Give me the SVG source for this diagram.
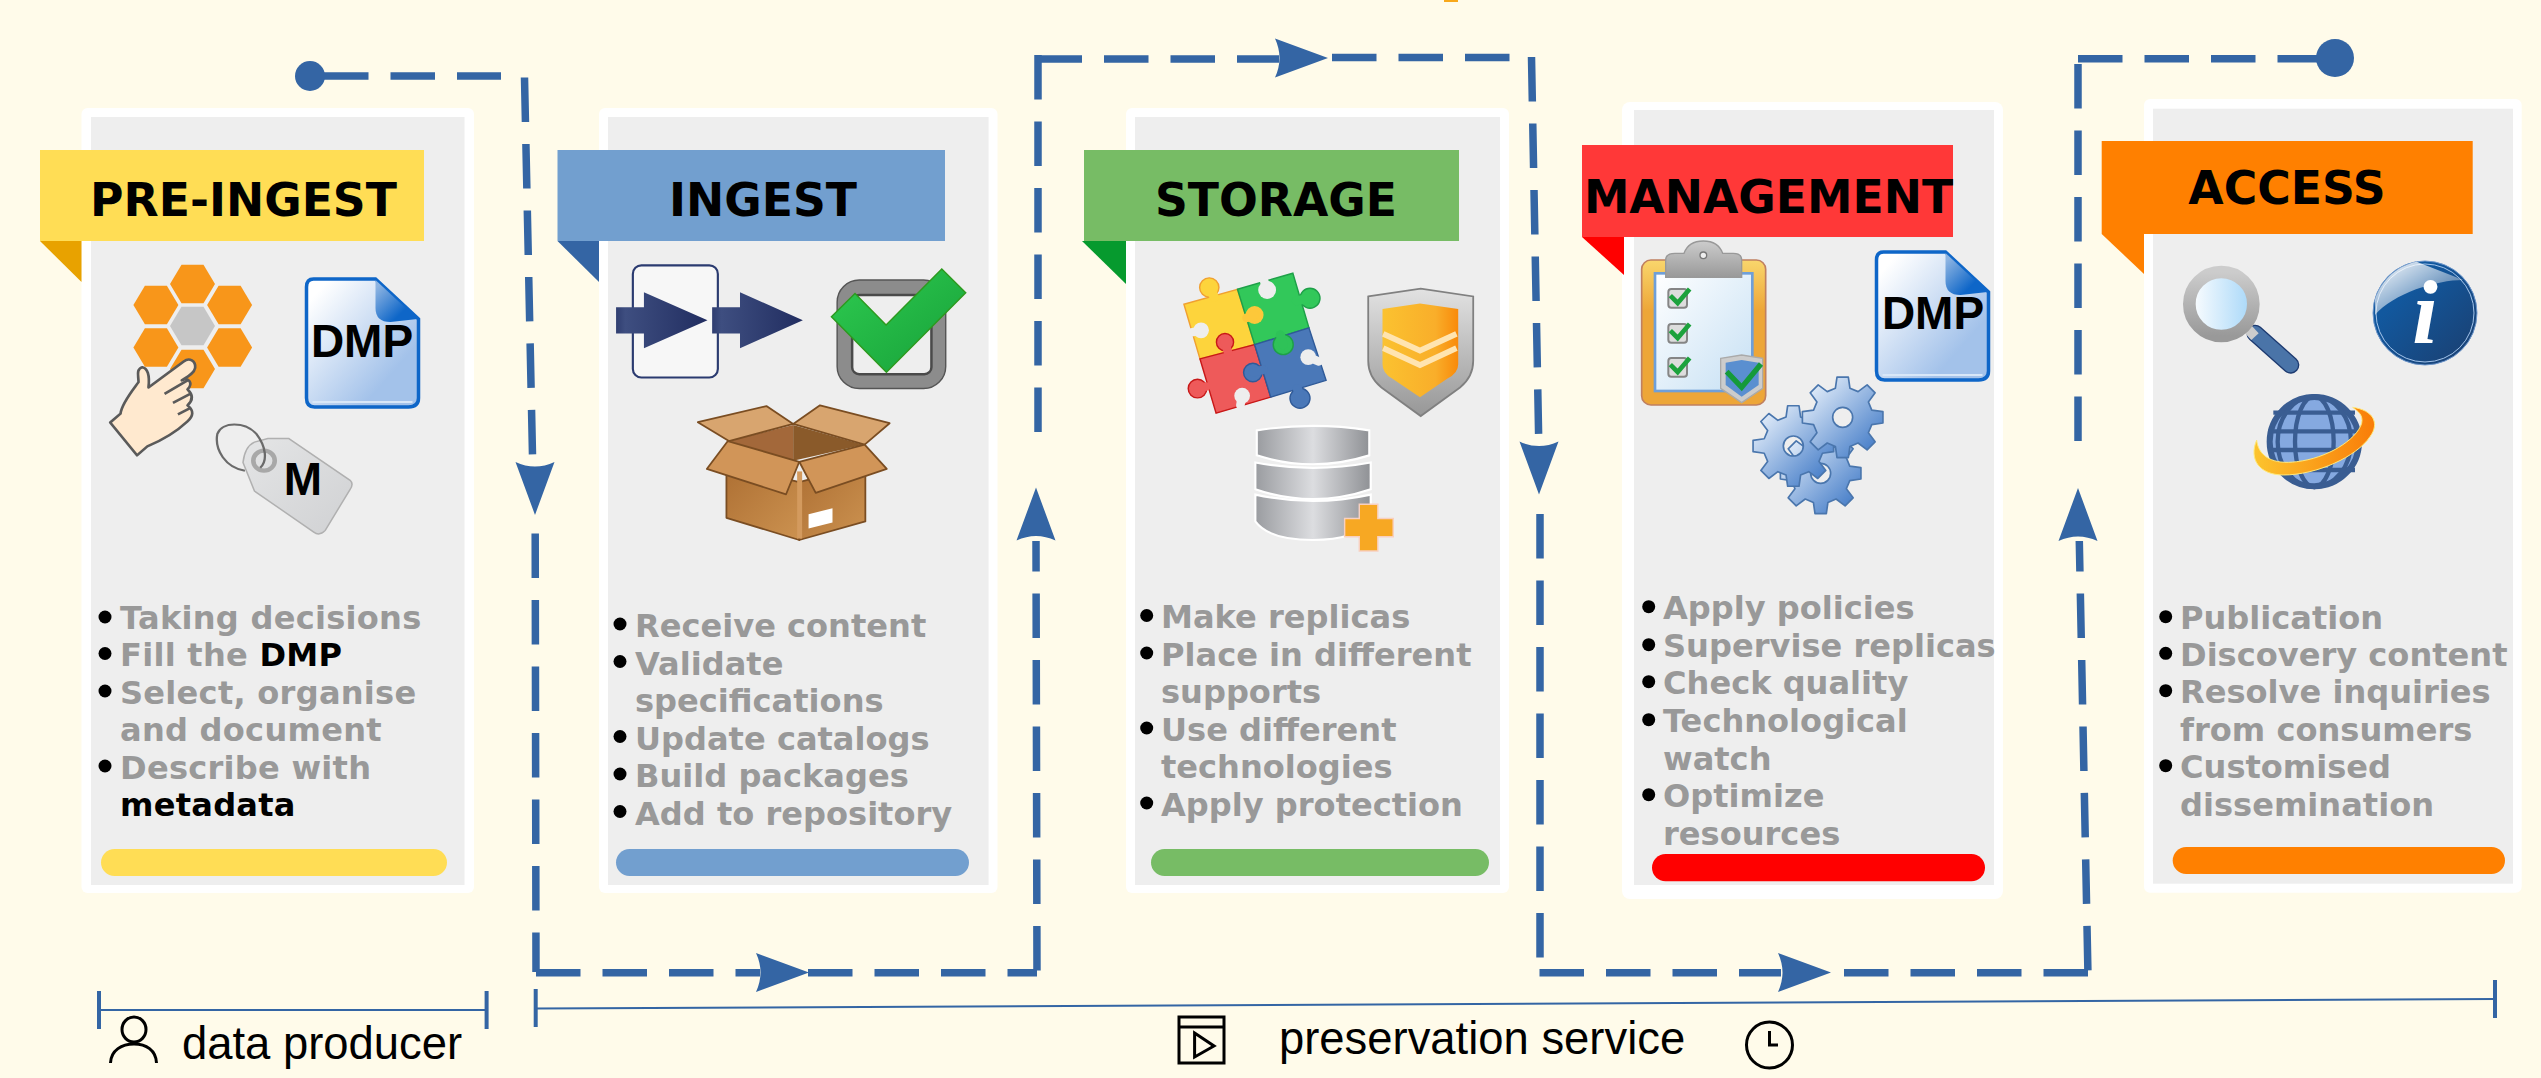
<svg xmlns="http://www.w3.org/2000/svg" xmlns:xlink="http://www.w3.org/1999/xlink" width="2541" height="1078" viewBox="0 0 2541 1078">
<style>
.card{fill:#fff}.inner{fill:#eee}
.h{font-family:"DejaVu Sans",sans-serif;font-weight:700;font-size:45.7px;text-anchor:middle;fill:#000}
.t{font-family:"DejaVu Sans",sans-serif;font-weight:700;font-size:32.1px;fill:#999}
.t tspan{fill:#000}
.dmp{font-family:"Liberation Sans",sans-serif;font-weight:700;font-size:46px;text-anchor:middle;fill:#000}
.leg{font-family:"Liberation Sans",sans-serif;font-size:45.4px;fill:#000}
.dash{fill:none;stroke:#3465a4;stroke-width:7.5;stroke-dasharray:44.5 22}
.head{fill:#3465a4}
.br{fill:none;stroke:#3465a4;stroke-width:2}
.tick{fill:none;stroke:#3465a4;stroke-width:4}
.ico{fill:none;stroke:#000;stroke-width:3}
</style>
<defs>
<linearGradient id="gDoc" x1="0" y1="0" x2="1" y2="1"><stop offset=".1" stop-color="#fff"/><stop offset=".75" stop-color="#a3c2ea"/></linearGradient>
<linearGradient id="gEar" x1="0" y1="0" x2="1" y2="1"><stop offset=".1" stop-color="#8db4e2"/><stop offset=".7" stop-color="#0e66c8"/></linearGradient>
<linearGradient id="gTag" x1="0" y1="0" x2="1" y2="1"><stop offset="0" stop-color="#e4e5e6"/><stop offset="1" stop-color="#d0d1d3"/></linearGradient>
<linearGradient id="gArr" x1="0" y1="0" x2="1" y2="0"><stop offset="0" stop-color="#2f3d70"/><stop offset=".1" stop-color="#3e4e80"/><stop offset="1" stop-color="#212d60"/></linearGradient>
<linearGradient id="gChk" x1="0" y1="0" x2="1" y2="1"><stop offset="0" stop-color="#2ecb50"/><stop offset="1" stop-color="#17a039"/></linearGradient>
<linearGradient id="gBox" x1="0" y1="0" x2="1" y2="1"><stop offset="0" stop-color="#ad6f33"/><stop offset="1" stop-color="#cc9250"/></linearGradient>
<linearGradient id="gShO" x1="0" y1="0" x2="0" y2="1"><stop offset="0" stop-color="#e2e2e2"/><stop offset="1" stop-color="#979797"/></linearGradient>
<linearGradient id="gShI" x1="0" y1="0" x2="1" y2="0"><stop offset="0" stop-color="#fbc230"/><stop offset=".7" stop-color="#f9ae2a"/><stop offset="1" stop-color="#f98a0a"/></linearGradient>
<linearGradient id="gDb" x1="0" y1="0" x2="1" y2="0"><stop offset="0" stop-color="#9a9ca0"/><stop offset=".5" stop-color="#dcdde0"/><stop offset="1" stop-color="#8f9195"/></linearGradient>
<linearGradient id="gBrd" x1="0" y1="0" x2="0" y2="1"><stop offset="0" stop-color="#f9d66c"/><stop offset=".35" stop-color="#eda638"/></linearGradient>
<linearGradient id="gPap" x1="0" y1="0" x2="1" y2="1"><stop offset="0" stop-color="#fff"/><stop offset="1" stop-color="#c6e0f4"/></linearGradient>
<linearGradient id="gClip" x1="0" y1="0" x2="0" y2="1"><stop offset="0" stop-color="#ccc"/><stop offset="1" stop-color="#999"/></linearGradient>
<linearGradient id="gGear" x1="0" y1="0" x2="1" y2="1"><stop offset=".1" stop-color="#e4eefa"/><stop offset=".85" stop-color="#4f84cb"/></linearGradient>
<linearGradient id="gLens" x1="0" y1="0" x2="1" y2="0"><stop offset="0" stop-color="#fff"/><stop offset="1" stop-color="#a5d6f8"/></linearGradient>
<linearGradient id="gInfo" x1="0" y1="0" x2="1" y2="1"><stop offset=".3" stop-color="#12589e"/><stop offset="1" stop-color="#1b3e6e"/></linearGradient>
<linearGradient id="gGloss" x1="0" y1="0" x2="1" y2="1"><stop offset="0" stop-color="#fff"/><stop offset="1" stop-color="#fff" stop-opacity="0"/></linearGradient>
<linearGradient id="gRing" x1="0" y1="0" x2="1" y2="0"><stop offset="0" stop-color="#fcc42e"/><stop offset="1" stop-color="#f97d08"/></linearGradient>
<path id="hex" d="M-22.5,0-11,-19.3H11L22.5,0 11,19.3H-11Z"/>
<g id="doc">
<path d="M8,1H70L113,41V120Q113,129 103,129H9Q1,129 1,120V9Q1,1 8,1Z" fill="url(#gDoc)" stroke="#0e66c8" stroke-width="3.5"/>
<path d="M7,124H107" fill="none" stroke="#d8e7f8" stroke-width="2"/>
<path d="M70,2 112,41 85,44Q70,44 70,30Z" fill="url(#gEar)"/>
</g>
<path id="ah" d="M0,0-53,-19.5Q-44,0-53,19.5Z"/>
<path id="gear" fill="url(#gGear)" stroke="#4a76ad" stroke-width="5" stroke-linejoin="round" fill-rule="evenodd" d="M87.3,-21.8 120.8,-17V17L87.3,21.8 77.1,46.3 97.4,73.4 73.4,97.4 46.3,77.1 21.8,87.3 17,120.8H-17L-21.8,87.3-46.3,77.1-73.4,97.4-97.4,73.4-77.1,46.3-87.3,21.8-120.8,17V-17L-87.3,-21.8-77.1,-46.3-97.4,-73.4-73.4,-97.4-46.3,-77.1-21.8,-87.3-17,-120.8H17L21.8,-87.3 46.3,-77.1 73.4,-97.4 97.4,-73.4 77.1,-46.3ZM30,0A30,30 0 1 0-30,0A30,30 0 1 0 30,0Z"/>
<g id="smallchk"><rect x="-28" y="-28" width="56" height="56" rx="9" fill="#ddd" stroke="#858585" stroke-width="6"/><path d="M-22,-8 0,14 36,-28" fill="none" stroke="#1da23d" stroke-width="14"/></g>
</defs>
<rect width="2541" height="1078" fill="#fffbea"/>
<rect x="1444" y="0" width="14" height="2" fill="#f8a81b"/>

<g id="connectors">
<circle cx="310" cy="76" r="15" class="head"/>
<path class="dash" d="M324,76H501"/>
<path class="dash" d="M524.5,77.5L532.5,455"/>
<use xlink:href="#ah" href="#ah" class="head" transform="translate(535,515) rotate(90)"/>
<path class="dash" d="M535.2,533.5L536,972"/>
<path class="dash" d="M536,972.7H760"/>
<use xlink:href="#ah" href="#ah" class="head" transform="translate(809,972.5)"/>
<path class="dash" d="M808,972.7H1037"/>
<path class="dash" style="stroke-dashoffset:14" d="M1036,541L1037,976"/>
<use xlink:href="#ah" href="#ah" class="head" transform="translate(1036,487.5) rotate(-90)"/>
<path class="dash" d="M1038,55V432"/>
<path class="dash" d="M1037.5,59H1279"/>
<use xlink:href="#ah" href="#ah" class="head" transform="translate(1328,58)"/>
<path class="dash" d="M1332,57.5H1510"/>
<path class="dash" d="M1531.5,57L1538.6,434"/>
<use xlink:href="#ah" href="#ah" class="head" transform="translate(1539,494.6) rotate(90)"/>
<path class="dash" d="M1540,514V958"/>
<path class="dash" d="M1539.5,972.7H1781"/>
<use xlink:href="#ah" href="#ah" class="head" transform="translate(1831,972.5)"/>
<path class="dash" d="M1844,972.7H2089"/>
<path class="dash" style="stroke-dashoffset:14" d="M2079.3,541L2088,976"/>
<use xlink:href="#ah" href="#ah" class="head" transform="translate(2078,488) rotate(-90)"/>
<path class="dash" d="M2078,64V441"/>
<path class="dash" d="M2078,58.7H2330"/>
<circle cx="2335" cy="58" r="19" class="head"/>
</g>

<g id="pre-ingest">
<rect class="card" x="81.5" y="108" width="392.5" height="785" rx="6"/>
<rect class="inner" x="91" y="117" width="373.5" height="768"/>
<path d="M40,241H81.5V282Z" fill="#e8a200"/>
<rect x="40" y="150" width="384" height="91" fill="#fd5"/>
<text class="h" x="243.5" y="216">PRE-INGEST</text>
<g fill="#f8961a">
<use xlink:href="#hex" href="#hex" x="192.5" y="284"/><use xlink:href="#hex" href="#hex" x="155.9" y="305"/><use xlink:href="#hex" href="#hex" x="229.6" y="305"/>
<use xlink:href="#hex" href="#hex" x="155.9" y="347.5"/><use xlink:href="#hex" href="#hex" x="229.6" y="347.5"/><use xlink:href="#hex" href="#hex" x="192.5" y="369"/>
<use xlink:href="#hex" href="#hex" x="192.5" y="326" fill="#c6c6c6"/>
</g>
<g transform="scale(.38265 .35714)">
<path d="M288,1183 315,1158C318,1130 345,1095 362,1070C362,1050 355,1035 372,1028C385,1030 392,1050 388,1085L480,1012C495,1000 512,1010 510,1030C508,1045 490,1055 475,1065C495,1055 505,1075 490,1090C505,1105 505,1120 490,1135C508,1150 505,1165 490,1180C460,1210 430,1230 385,1250L358,1275Z" fill="#ffe9cf" stroke="#5a5a5a" stroke-width="7" stroke-linejoin="round"/>
<path d="M430,1103 490,1065M452,1128 497,1103M465,1160 498,1142" fill="none" stroke="#5a5a5a" stroke-width="7"/>
<path d="M755,1228 915,1345Q925,1355 915,1370L850,1485Q835,1502 820,1490L665,1375 635,1295Q640,1250 665,1238L700,1228Z" fill="url(#gTag)" stroke="#b0b0b0" stroke-width="4"/>
<circle cx="690" cy="1290" r="28" fill="none" stroke="#a8a8a8" stroke-width="12"/>
<path d="M640,1318C590,1310 560,1260 568,1215C580,1180 640,1180 670,1215C695,1250 700,1290 680,1310" fill="none" stroke="#6a6a6a" stroke-width="6"/>
</g>
<text class="dmp" x="303" y="494.5">M</text>
<use xlink:href="#doc" href="#doc" transform="translate(305.5,278)"/>
<text class="dmp" x="362" y="357">DMP</text>
<g style="letter-spacing:.25px">
<circle cx="105" cy="617" r="6.5"/><circle cx="105" cy="653.5" r="6.5"/><circle cx="105" cy="691" r="6.5"/><circle cx="105" cy="766" r="6.5"/>
<text class="t" x="120" y="628.5">Taking decisions</text>
<text class="t" x="120" y="666">Fill the <tspan>DMP</tspan></text>
<text class="t" x="120" y="703.5">Select, organise</text>
<text class="t" x="120" y="741">and document</text>
<text class="t" x="120" y="778.5">Describe with</text>
<text class="t" x="120" y="816"><tspan>metadata</tspan></text>
</g>
<rect x="101" y="849" width="346" height="27" rx="13.5" fill="#fd5"/>
</g>

<g id="ingest">
<rect class="card" x="599" y="108" width="398.5" height="785" rx="6"/>
<rect class="inner" x="608" y="117" width="380.6" height="768"/>
<path d="M557.5,241H599V282Z" fill="#3465a4"/>
<rect x="557.5" y="150" width="387.5" height="91" fill="#729fcf"/>
<text class="h" x="763" y="216">INGEST</text>
<g transform="translate(520 0) scale(.35714)">
<rect x="316" y="743" width="238" height="314" rx="24" fill="#f7f7f7" stroke="#2b3b70" stroke-width="6"/>
<path d="M269,860H347V818L525,897 347,975V934H269Z" fill="url(#gArr)"/>
<path d="M538,860H616V818L792,897 616,975V934H538Z" fill="url(#gArr)"/>
<rect x="888" y="784" width="304" height="304" rx="62" fill="#8c8c8c" stroke="#555" stroke-width="4"/>
<rect x="930" y="826" width="222" height="222" rx="20" fill="#eee" stroke="#4a4a4a" stroke-width="7"/>
<path d="M872,887 938,822 1025,910 1181,753 1248,820 1026,1042Z" fill="url(#gChk)" stroke="#2d9a1e" stroke-width="4"/>
<g stroke="#7a4d22" stroke-width="5" stroke-linejoin="round">
<path d="M585,1235 765,1190V1290Z" fill="#a3683a" stroke="none"/>
<path d="M765,1190 962,1245 765,1290Z" fill="#8a5a2a" stroke="none"/>
<path d="M578,1300 782,1350V1512L578,1450Z" fill="url(#gBox)"/>
<path d="M782,1350 967,1300V1460L782,1512Z" fill="url(#gBox)"/>
<path d="M498,1182 690,1137 765,1187 585,1235Z" fill="#d8a56f"/>
<path d="M765,1187 840,1135 1035,1185 965,1245Z" fill="#d8a56f"/>
<path d="M582,1235 782,1293 745,1384 523,1313Z" fill="#d19558"/>
<path d="M782,1293 965,1245 1027,1313 828,1380Z" fill="#d19558"/>
</g>
<path d="M776,1320H790V1508H776Z" fill="#d39a5e"/>
<path d="M808,1440 875,1423V1463L808,1480Z" fill="#fff"/>
</g>
<g>
<circle cx="620" cy="624" r="6.5"/><circle cx="620" cy="661.5" r="6.5"/><circle cx="620" cy="736.5" r="6.5"/><circle cx="620" cy="774" r="6.5"/><circle cx="620" cy="811.5" r="6.5"/>
<text class="t" x="635" y="637">Receive content</text>
<text class="t" x="635" y="674.5">Validate</text>
<text class="t" x="635" y="712">specifications</text>
<text class="t" x="635" y="749.5">Update catalogs</text>
<text class="t" x="635" y="787">Build packages</text>
<text class="t" x="635" y="824.5">Add to repository</text>
</g>
<rect x="616" y="849" width="353" height="27" rx="13.5" fill="#729fcf"/>
</g>

<g id="storage">
<rect class="card" x="1126" y="108" width="383" height="785" rx="6"/>
<rect class="inner" x="1135" y="117" width="365" height="768"/>
<path d="M1082,241H1126V284Z" fill="#069a2e"/>
<rect x="1084" y="150" width="375" height="91" fill="#77bc65"/>
<text class="h" x="1276" y="216">STORAGE</text>
<g transform="translate(1060 0) scale(.35714)">
<g stroke-width="4" stroke-linecap="round">
<g fill="#fdd43c" stroke="#f0a030"><circle cx="418" cy="805" r="27"/><path d="M347,852 497,810 545,965 392,1005Z"/></g>
<path d="M432,832 418,805" stroke="#fdd43c" stroke-width="26"/>
<g fill="#ee5a5a" stroke="#c81818"><circle cx="385" cy="1088" r="26"/><path d="M392,1005 545,965 590,1112 437,1157Z"/><circle cx="462" cy="958" r="24"/></g>
<path d="M410,1082 385,1088" stroke="#ee5a5a" stroke-width="24"/>
<path d="M470,985 462,958" stroke="#ee5a5a" stroke-width="24"/>
<circle cx="395" cy="925" r="22" fill="#eee" stroke="none"/>
<path d="M362,932 395,925" stroke="#eee" stroke-width="24"/>
<circle cx="510" cy="1108" r="22" fill="#eee" stroke="none"/>
<path d="M505,1135 510,1108" stroke="#eee" stroke-width="24"/>
<g fill="#32c85a" stroke="#1ea048"><circle cx="700" cy="835" r="28"/><path d="M497,810 652,765 697,918 545,965Z"/></g>
<path d="M662,842 700,835" stroke="#32c85a" stroke-width="26"/>
<circle cx="580" cy="812" r="25" fill="#eee" stroke="none"/>
<path d="M572,788 580,812" stroke="#eee" stroke-width="24"/>
<circle cx="545" cy="882" r="25" fill="#fdc83a" stroke="none"/>
<path d="M522,890 545,882" stroke="#fdc83a" stroke-width="24"/>
<g fill="#4a78b8" stroke="#2f5a98"><circle cx="672" cy="1115" r="28"/><path d="M545,965 697,918 745,1065 590,1112Z"/><circle cx="540" cy="1043" r="26"/></g>
<path d="M665,1088 672,1115" stroke="#4a78b8" stroke-width="26"/>
<path d="M570,1035 540,1043" stroke="#4a78b8" stroke-width="24"/>
<circle cx="695" cy="1000" r="22" fill="#eee" stroke="none"/>
<path d="M725,1012 695,1000" stroke="#eee" stroke-width="24"/>
<circle cx="625" cy="965" r="28" fill="#2fc258" stroke="#1ea048"/>
<path d="M617,938 625,965" stroke="#2fc258" stroke-width="26"/>
</g>
<path d="M863,830 1010,808 1157,830V1010Q1157,1055 1120,1085L1010,1165 900,1085Q863,1055 863,1010Z" fill="url(#gShO)" stroke="#808080" stroke-width="5"/>
<path d="M903,865 1008,850 1115,865V1020Q1115,1045 1085,1060L1008,1112 930,1060Q903,1045 903,1020Z" fill="url(#gShI)"/>
<path d="M905,935 1008,982 1110,935M905,975 1008,1022 1110,975" fill="none" stroke="#ffe4b0" stroke-width="16"/>
<g fill="url(#gDb)" stroke="#fff" stroke-width="6">
<path d="M547,1385Q708,1420 870,1385V1460Q830,1512 708,1512Q585,1512 547,1460Z"/>
<path d="M547,1295Q708,1325 870,1295V1370Q708,1425 547,1370Z"/>
<path d="M551,1205Q708,1180 866,1205V1275Q708,1325 551,1275Z"/>
</g>
<path d="M838,1412H890V1452H933V1503H890V1543H838V1503H797V1452H838Z" fill="#f7a823" stroke="#f8d0c0" stroke-width="4"/>
</g>
<g>
<circle cx="1146.7" cy="615.5" r="6.5"/><circle cx="1146.7" cy="653" r="6.5"/><circle cx="1146.7" cy="728" r="6.5"/><circle cx="1146.7" cy="803" r="6.5"/>
<text class="t" x="1161" y="628">Make replicas</text>
<text class="t" x="1161" y="665.5">Place in different</text>
<text class="t" x="1161" y="703">supports</text>
<text class="t" x="1161" y="740.5">Use different</text>
<text class="t" x="1161" y="778">technologies</text>
<text class="t" x="1161" y="815.5">Apply protection</text>
</g>
<rect x="1151" y="849" width="338" height="27" rx="13.5" fill="#77bc65"/>
</g>

<g id="management">
<rect class="card" x="1622" y="102" width="381" height="797" rx="8"/>
<rect class="inner" x="1634" y="110" width="360" height="775"/>
<path d="M1582,237H1624V275Z" fill="#f00"/>
<rect x="1582" y="145" width="371" height="92" fill="#ff3838"/>
<text class="h" x="1768.5" y="212.7">MANAGEMENT</text>
<g transform="translate(1560 60) scale(.33333)">
<rect x="245" y="600" width="372" height="435" rx="28" fill="url(#gBrd)" stroke="#c08060" stroke-width="5"/>
<rect x="285" y="640" width="292" height="353" fill="url(#gPap)" stroke="#6f9fd8" stroke-width="8"/>
<path d="M317,652V600Q317,580 345,580H372Q385,543 430,543Q475,543 488,580H520Q545,580 545,600V652Z" fill="url(#gClip)" stroke="#999" stroke-width="4"/>
<circle cx="430" cy="586" r="10" fill="#eee" stroke="#777" stroke-width="4"/>
<use xlink:href="#smallchk" href="#smallchk" x="353" y="715"/><use xlink:href="#smallchk" href="#smallchk" x="353" y="820"/><use xlink:href="#smallchk" href="#smallchk" x="353" y="922"/>
<path d="M482,895 545,885 608,895V985L545,1028 482,985Z" fill="#ccc" stroke="#aaa" stroke-width="4"/>
<path d="M497,908 545,900 596,908V975L545,1010 497,975Z" fill="#5a8fd0"/>
<path d="M500,935 545,982 603,912" fill="none" stroke="#159a3a" stroke-width="16"/>
<use xlink:href="#gear" href="#gear" transform="translate(782 1240)"/>
<use xlink:href="#gear" href="#gear" transform="translate(700 1158)"/>
<use xlink:href="#gear" href="#gear" transform="translate(848 1072)"/>
</g>
<use xlink:href="#doc" href="#doc" transform="translate(1875.5,251)"/>
<text class="dmp" x="1933" y="329.3">DMP</text>
<g>
<circle cx="1648.7" cy="606.7" r="6.5"/><circle cx="1648.7" cy="644.7" r="6.5"/><circle cx="1648.7" cy="681.7" r="6.5"/><circle cx="1648.7" cy="719.7" r="6.5"/><circle cx="1648.7" cy="794.7" r="6.5"/>
<text class="t" x="1663" y="619">Apply policies</text>
<text class="t" x="1663" y="656.7">Supervise replicas</text>
<text class="t" x="1663" y="694">Check quality</text>
<text class="t" x="1663" y="731.7">Technological</text>
<text class="t" x="1663" y="770">watch</text>
<text class="t" x="1663" y="807.3">Optimize</text>
<text class="t" x="1663" y="845">resources</text>
</g>
<rect x="1652" y="854" width="333" height="27.3" rx="13.6" fill="#f00"/>
</g>

<g id="access">
<rect class="card" x="2144" y="99" width="377.7" height="793.7" rx="6"/>
<rect class="inner" x="2153" y="108.7" width="360" height="775"/>
<path d="M2101.7,234H2144V274Z" fill="#ff8000"/>
<rect x="2101.7" y="141" width="371" height="93" fill="#ff8000"/>
<text class="h" x="2287" y="204">ACCESS</text>
<g transform="translate(2040 0) scale(.33333)">
<path d="M645,1000 752,1095" stroke="#1d3a70" stroke-width="52" stroke-linecap="round" fill="none"/>
<path d="M645,1000 752,1095" stroke="#4a74a8" stroke-width="44" stroke-linecap="round" fill="none"/>
<path d="M622,985 645,1010" stroke="#ccc" stroke-width="30" fill="none"/>
<circle cx="544" cy="912" r="96" fill="url(#gLens)" stroke="url(#gClip)" stroke-width="38"/>
<circle cx="1155" cy="939" r="156" fill="url(#gInfo)" stroke="#6d97cc" stroke-width="3"/>
<circle cx="1155" cy="939" r="147" fill="none" stroke="#a4c4ea" stroke-width="3"/>
<path d="M1005,900C1020,850 1060,800 1130,785L1270,840C1190,840 1060,880 1005,945Z" fill="url(#gGloss)"/>
<circle cx="823" cy="1325" r="134" fill="#85a9e0" stroke="#3a5d92" stroke-width="18"/>
<g fill="none" stroke="#3a5d92" stroke-width="13">
<path d="M700,1238H945M685,1294H962M685,1350H962M700,1410H945"/>
<ellipse cx="823" cy="1325" rx="58" ry="136"/>
<ellipse cx="823" cy="1325" rx="110" ry="136"/>
</g>
<path d="M938,1222C1000,1230 1020,1270 990,1310C950,1370 830,1425 730,1425C660,1425 625,1380 650,1320C655,1370 700,1395 770,1385C860,1375 950,1320 965,1270C970,1245 955,1235 938,1222Z" fill="url(#gRing)" stroke="#ffe97a" stroke-width="3"/>
</g>
<text x="2425" y="343" font-family="'Liberation Serif',serif" font-style="italic" font-weight="700" font-size="92" text-anchor="middle" fill="#fff">i</text>
<g>
<circle cx="2165.7" cy="616.7" r="6.5"/><circle cx="2165.7" cy="653.3" r="6.5"/><circle cx="2165.7" cy="690.7" r="6.5"/><circle cx="2165.7" cy="765.7" r="6.5"/>
<text class="t" x="2180" y="629">Publication</text>
<text class="t" x="2180" y="666">Discovery content</text>
<text class="t" x="2180" y="703">Resolve inquiries</text>
<text class="t" x="2180" y="740.7">from consumers</text>
<text class="t" x="2180" y="778">Customised</text>
<text class="t" x="2180" y="815.7">dissemination</text>
</g>
<rect x="2172.7" y="847" width="332.3" height="27" rx="13.5" fill="#ff8000"/>
</g>

<g id="data-producer">
<path class="tick" d="M99,991V1029M486.6,991V1029"/>
<path class="br" d="M99,1010H486.6"/>
<ellipse class="ico" cx="134" cy="1029.5" rx="12" ry="12.5"/>
<path class="ico" d="M110.5,1063C111,1050 122,1044 134,1044C146,1044 156,1050 156.5,1063"/>
<text class="leg" x="182" y="1059">data producer</text>
</g>
<g id="preservation-service">
<path class="tick" d="M535.7,989V1027M2495,980V1018"/>
<path class="br" d="M536,1008.5L2495,999"/>
<rect class="ico" x="1179" y="1017" width="45" height="46"/>
<path class="ico" d="M1179,1027H1224M1194.6,1033 1214,1046 1194.6,1057Z"/>
<text class="leg" x="1279" y="1054">preservation service</text>
<circle class="ico" cx="1769.5" cy="1045" r="23"/>
<path class="ico" d="M1769.5,1031V1045H1778"/>
</g>
</svg>
